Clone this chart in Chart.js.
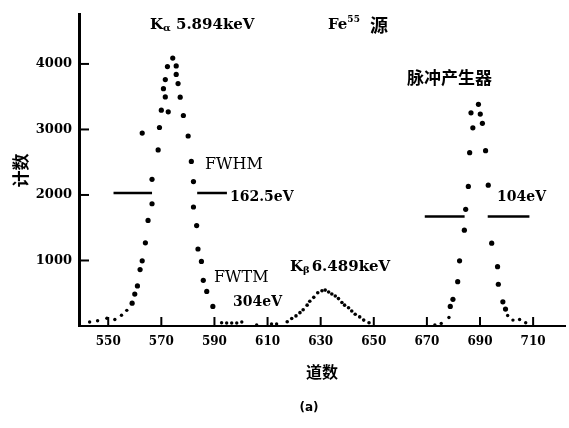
<!DOCTYPE html>
<html>
<head>
<meta charset="utf-8">
<script src="https://cdn.jsdelivr.net/npm/chart.js@4.4.0/dist/chart.umd.min.js"></script>
<style>
  html, body { margin: 0; padding: 0; background: #fff; }
  #wrap { width: 569px; height: 428px; }
</style>
</head>
<body>
<div id="wrap"><canvas id="spectrumChart"></canvas></div>
<script>
// tick labels
var xTicks = [550, 570, 590, 610, 630, 650, 670, 690, 710];
var yTicks = [1000, 2000, 3000, 4000];

// Fe55 K-alpha peak (plus low tails)
var kaChannels = [543.0, 546.0, 549.5, 552.5, 555.0, 557.0, 559.0, 560.0, 561.0, 562.0, 562.8, 562.8,
  564.0, 565.0, 566.5, 566.5, 568.8, 569.3, 570.0, 570.8, 571.5, 571.5, 572.3, 572.6, 574.3,
  575.6, 575.6, 576.3, 577.1, 578.3, 580.1, 581.3, 582.1, 582.1, 583.3, 583.8, 585.1, 585.8,
  587.1, 589.4, 592.7, 594.6, 596.5, 598.4, 600.3, 605.9, 611.5, 613.4];
var kaCounts = [60, 79, 119, 100, 164, 239, 348, 488, 612, 861, 995, 2945,
  1269, 1612, 1866, 2239, 2687, 3030, 3294, 3622, 3497, 3761, 3960, 3269, 4089,
  3970, 3840, 3701, 3493, 3213, 2900, 2512, 2204, 1816, 1533, 1175, 985, 697,
  527, 299, 50, 45, 45, 45, 60, 15, 30, 30];

// K-beta peak
var kbChannels = [617.4, 619.1, 620.7, 622.2, 623.4, 624.9, 625.9, 627.4, 628.9, 630.5, 631.7,
  633.0, 634.2, 635.5, 636.7, 638.0, 639.0, 640.5, 641.7, 643.0, 644.7, 646.2, 648.2];
var kbCounts = [64, 115, 154, 204, 249, 318, 378, 437, 507, 537, 548,
  518, 488, 458, 418, 358, 318, 279, 228, 179, 139, 90, 49];

// pulse generator peak
var pulserChannels = [673.0, 675.4, 678.3, 678.8, 679.8, 681.6, 682.3, 684.1, 684.6, 685.6, 686.1,
  686.6, 687.3, 689.4, 690.1, 690.9, 692.1, 693.1, 694.4, 696.6, 696.9, 698.6, 699.6, 700.4,
  702.4, 704.9, 707.2];
var pulserCounts = [15, 40, 130, 299, 407, 676, 995, 1463, 1781, 2130, 2646,
  3254, 3025, 3384, 3234, 3094, 2676, 2149, 1264, 906, 637, 369, 258, 160,
  90, 100, 49];

// FWHM markers: [from, to] channels and level
var kaHalfLeft = [552, 566.5];
var kaHalfRight = [583.5, 594.7];
var kaHalfLevel = 2030;
var pulserHalfLeft = [669.2, 684.2];
var pulserHalfRight = [692.9, 708.6];
var pulserHalfLevel = 1672;

function pts(xs, ys) {
  return xs.map(function (x, i) { return { x: x, y: ys[i] }; });
}
function seg(range, level) {
  return [{ x: range[0], y: level }, { x: range[1], y: level }];
}

var serif = "'DejaVu Serif', 'Liberation Serif', serif";
var cjk = "'Noto Sans CJK SC', sans-serif";

function dotSize(c) {
  return c.raw && c.raw.y > 250 ? 2.6 : 1.7;
}

function lineSet(data) {
  return {
    type: "line", data: data, borderColor: "#000", borderWidth: 2.5,
    pointRadius: 0, showLine: true, fill: false
  };
}

// write a run of text pieces with different fonts
function rich(ctx, x, y, parts) {
  parts.forEach(function (p) {
    ctx.font = p.font;
    ctx.fillText(p.t, x, y + (p.dy || 0));
    x += ctx.measureText(p.t).width + (p.gap || 0);
  });
}

var marks = {
  id: "marks",
  afterDraw: function (chart) {
    var ctx = chart.ctx, xs = chart.scales.x, ys = chart.scales.y, a = chart.chartArea;
    ctx.save();
    ctx.strokeStyle = "#000";
    ctx.lineWidth = 2;
    // inward ticks
    xTicks.forEach(function (v) {
      var px = xs.getPixelForValue(v);
      ctx.beginPath(); ctx.moveTo(px, a.bottom); ctx.lineTo(px, a.bottom - 9); ctx.stroke();
    });
    yTicks.forEach(function (v) {
      var py = ys.getPixelForValue(v);
      ctx.beginPath(); ctx.moveTo(a.left, py); ctx.lineTo(a.left + 10, py); ctx.stroke();
    });

    ctx.fillStyle = "#000";
    ctx.textBaseline = "middle";
    ctx.textAlign = "left";
    var b15 = "bold 15px " + serif;
    rich(ctx, 150, 25, [{ t: "K", font: b15 }, { t: "α", font: "bold 10px " + serif, dy: 3 },
      { t: " 5.894keV", font: b15 }]);
    rich(ctx, 328, 25, [{ t: "Fe", font: b15 }, { t: "55", font: "bold 9px " + serif, dy: -5, gap: 10 },
      { t: "源", font: "bold 18px " + cjk }]);
    ctx.font = "bold 17px " + cjk;
    ctx.fillText("脉冲产生器", 407, 78);

    ctx.font = "16px " + serif;
    ctx.fillText("FWHM", 205, 165);
    ctx.fillText("FWTM", 214, 278);
    ctx.font = "bold 14px " + serif;
    ctx.fillText("162.5eV", 230, 197);
    ctx.fillText("304eV", 233, 302);
    ctx.fillText("104eV", 497, 197);
    rich(ctx, 290, 267, [{ t: "K", font: b15 }, { t: "β", font: "bold 10px " + serif, dy: 3, gap: 2 },
      { t: "6.489keV", font: b15 }]);

    ctx.textAlign = "center";
    ctx.font = "bold 12px 'DejaVu Sans', sans-serif";
    ctx.fillText("(a)", 309, 408);
    ctx.restore();
  }
};

var ctx = document.getElementById("spectrumChart").getContext("2d");
var spectrumChart = new Chart(ctx, {
  type: "scatter",
  data: {
    datasets: [
      { data: pts(kaChannels, kaCounts), backgroundColor: "#000", borderWidth: 0, pointRadius: dotSize },
      { data: pts(kbChannels, kbCounts), backgroundColor: "#000", borderWidth: 0, pointRadius: 1.8 },
      { data: pts(pulserChannels, pulserCounts), backgroundColor: "#000", borderWidth: 0, pointRadius: dotSize },
      lineSet(seg(kaHalfLeft, kaHalfLevel)),
      lineSet(seg(kaHalfRight, kaHalfLevel)),
      lineSet(seg(pulserHalfLeft, pulserHalfLevel)),
      lineSet(seg(pulserHalfRight, pulserHalfLevel))
    ]
  },
  options: {
    responsive: true,
    maintainAspectRatio: false,
    animation: false,
    layout: { padding: { top: 8, right: 3, left: 0, bottom: 0 } },
    plugins: { legend: { display: false }, tooltip: { enabled: false } },
    scales: {
      x: {
        type: "linear", min: 539, max: 722,
        afterBuildTicks: function (s) { s.ticks = xTicks.map(function (v) { return { value: v }; }); },
        afterFit: function (s) { s.height = 102; },
        grid: { display: false, drawTicks: false },
        border: { display: true, color: "#000", width: 2 },
        ticks: { color: "#000", padding: 9, callback: function (v) { return String(v); },
          font: { family: serif, size: 12, weight: "bold" } },
        title: { display: true, text: "道数", color: "#000", padding: { bottom: 46 },
          font: { family: cjk, size: 16, weight: "bold" } }
      },
      y: {
        min: 0, max: 4750,
        afterBuildTicks: function (s) { s.ticks = yTicks.map(function (v) { return { value: v }; }); },
        afterFit: function (s) { s.width = 79; },
        grid: { display: false, drawTicks: false },
        border: { display: true, color: "#000", width: 3 },
        ticks: { color: "#000", padding: 7, callback: function (v) { return String(v); },
          font: { family: serif, size: 13, weight: "bold" } },
        title: { display: true, text: "计数", color: "#000", padding: { top: 10 },
          font: { family: cjk, size: 17, weight: "bold" } }
      }
    }
  },
  plugins: [marks]
});
</script>
</body>
</html>
